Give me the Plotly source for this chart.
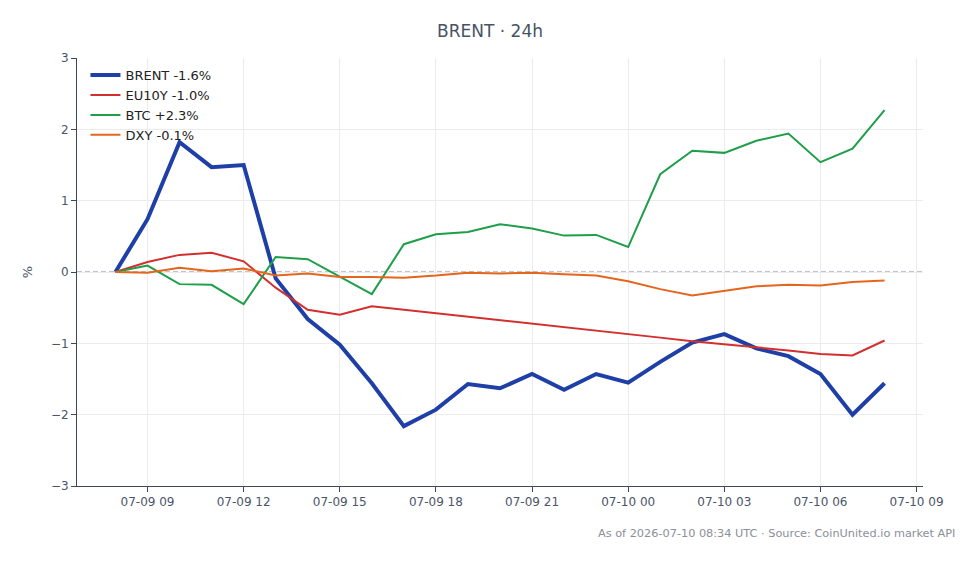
import pandas as pd
import plotly.graph_objects as go

times = pd.date_range("2026-07-09 08:00", "2026-07-10 08:00", freq="h")

brent = [0, 0.74, 1.82, 1.47, 1.50, -0.09, -0.66, -1.02, -1.56, -2.16, -1.93, -1.57, -1.63,
         -1.43, -1.65, -1.43, -1.55, -1.26, -0.99, -0.87, -1.07, -1.18, -1.43, -2.00, -1.56]
eu10y = [0, 0.14, 0.24, 0.27, 0.15, -0.22, -0.53, -0.60, -0.48, -0.53, -0.58, -0.63, -0.68,
         -0.72, -0.78, -0.82, -0.87, -0.92, -0.97, -1.01, -1.06, -1.10, -1.15, -1.17, -0.96]
btc = [0, 0.09, -0.17, -0.18, -0.45, 0.21, 0.18, -0.07, -0.31, 0.39, 0.53, 0.56, 0.67,
       0.61, 0.51, 0.52, 0.35, 1.37, 1.70, 1.67, 1.84, 1.94, 1.54, 1.73, 2.27]
dxy = [0, -0.01, 0.06, 0.01, 0.05, -0.05, -0.02, -0.07, -0.07, -0.08, -0.05, -0.01, -0.02,
       -0.01, -0.03, -0.05, -0.13, -0.24, -0.33, -0.26, -0.20, -0.18, -0.19, -0.14, -0.12]

series = [
    ("BRENT -1.6%", brent, "#1e3fa6", 4),
    ("EU10Y -1.0%", eu10y, "#d32f2f", 2),
    ("BTC +2.3%", btc, "#1f9e4a", 2),
    ("DXY -0.1%", dxy, "#e4651c", 2),
]

fig = go.Figure()
for name, vals, color, w in series:
    fig.add_trace(go.Scatter(x=times, y=vals, mode="lines", name=name,
                             line=dict(color=color, width=w)))

fig.add_hline(y=0, line=dict(color="#7c879b", width=1, dash="5px,3px"), layer="below")

axis_col = "#3d4756"
fig.update_layout(
    width=980, height=564,
    margin=dict(l=77, r=57, t=58, b=78),
    paper_bgcolor="white", plot_bgcolor="white",
    font=dict(family="DejaVu Sans", size=12, color="#4a5568"),
    title=dict(text="BRENT · 24h", x=0.5, xanchor="center", y=0.945, yanchor="middle",
               font=dict(size=17, color="#465366")),
    legend=dict(x=0.01, y=0.995, xanchor="left", yanchor="top", bgcolor="rgba(0,0,0,0)",
                font=dict(size=13, color="#222222")),
    showlegend=True,
)
fig.update_xaxes(
    range=[pd.Timestamp("2026-07-09 06:48"), pd.Timestamp("2026-07-10 09:12")],
    dtick=3 * 3600 * 1000, tick0="2026-07-09 00:00", tickformat="%m-%d %H",
    showline=True, linecolor=axis_col, linewidth=1, ticks="outside", ticklen=5,
    tickcolor=axis_col, showgrid=True, gridcolor="#ececec", zeroline=False,
    tickfont=dict(size=12, color="#4a5568"),
)
fig.update_yaxes(
    range=[-3, 3], dtick=1, title=dict(text="%", font=dict(size=13, color="#4a5568")),
    showline=True, linecolor=axis_col, linewidth=1, ticks="outside", ticklen=5,
    tickcolor=axis_col, showgrid=True, gridcolor="#ececec", zeroline=False,
    tickfont=dict(size=12, color="#4a5568"),
)
fig.add_annotation(text="As of 2026-07-10 08:34 UTC · Source: CoinUnited.io market API",
                   xref="paper", yref="paper", x=1.04, y=-0.11, xanchor="right",
                   yanchor="middle", showarrow=False,
                   font=dict(size=11.3, color="#8a8f98"))

fig.write_html("out.html")
